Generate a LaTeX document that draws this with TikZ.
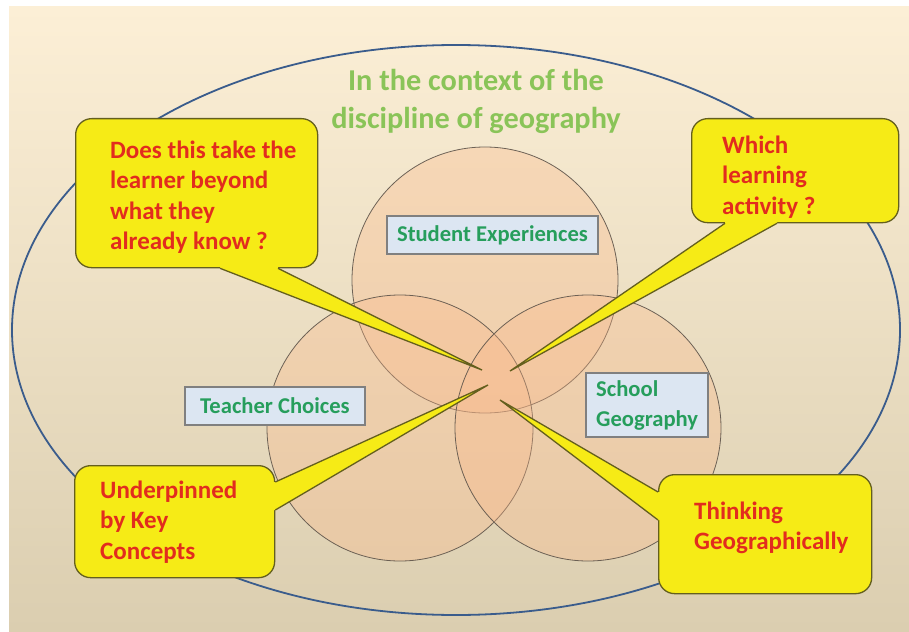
\documentclass[tikz,border=0pt]{standalone}
\usepackage{fontspec}
\setmainfont{Carlito}
\usetikzlibrary{calc,shapes.geometric}

\definecolor{bgtop}{RGB}{252,239,214}
\definecolor{bgmid}{RGB}{243,229,200}
\definecolor{bgbot}{RGB}{219,206,176}
\definecolor{ringblue}{RGB}{58,92,140}
\definecolor{vennpeach}{RGB}{252,184,137}
\definecolor{vennedge}{RGB}{95,85,75}
\definecolor{titlegreen}{RGB}{138,196,88}
\definecolor{labelgreen}{RGB}{38,158,92}
\definecolor{labelfill}{RGB}{220,230,242}
\definecolor{labeledge}{RGB}{128,128,128}
\definecolor{callyellow}{RGB}{246,235,22}
\definecolor{calledgec}{RGB}{100,95,30}
\definecolor{callred}{RGB}{226,44,30}

\tikzset{
  ctxring/.style={ellipse, draw=ringblue, line width=1.8pt, inner sep=0pt},
  venn/.style={circle, minimum size=266pt, inner sep=0pt, outer sep=0pt,
    fill=vennpeach, fill opacity=0.33, draw=vennedge, draw opacity=0.9, line width=0.8pt},
  labelbox/.style={rectangle, fill=labelfill, draw=labeledge, line width=1.2pt, inner sep=0pt},
  labeltext/.style={text=labelgreen, font=\fontsize{22.6}{30}\selectfont\bfseries, inner sep=0pt, align=left},
  titletext/.style={text=titlegreen, font=\fontsize{30.3}{38}\selectfont\bfseries, align=center, inner sep=0pt},
  callbox/.style={rectangle, rounded corners=16pt, fill=callyellow, draw=calledgec, line width=1.3pt, inner sep=0pt},
  callfill/.style={fill=callyellow},
  calledge/.style={draw=calledgec, line width=1.3pt, line join=miter},
  calltext/.style={text=callred, font=\fontsize{25}{30.5}\selectfont\bfseries, align=left, inner sep=0pt},
}

\begin{document}
\begin{tikzpicture}[x=1pt, y=-1pt]
\useasboundingbox (0,0) rectangle (909,631);

% page background
\shade[top color=bgtop, middle color=bgmid, bottom color=bgbot] (9,7) rectangle (909,631);

% outer context ring
\node[ctxring, minimum width=888pt, minimum height=570pt] (ctx) at (456,330) {};

% the three overlapping circles
\node[venn] (se) at (485,280) {};
\node[venn] (tc) at (400,428) {};
\node[venn] (sg) at (588,428) {};

% circle labels
\node[labelbox, minimum width=211pt, minimum height=38pt] (seb) at (492.5,235) {};
\node[labeltext] (set) at (seb.center) {Student Experiences};
\node[labelbox, minimum width=180pt, minimum height=38pt] (tcb) at (275,406) {};
\node[labeltext] (tct) at (tcb.center) {Teacher Choices};
\node[labelbox, minimum width=122pt, minimum height=64pt] (sgb) at (647,405) {};
\node[labeltext, anchor=west] (sgt) at (596,405) {School\\Geography};

% title
\node[titletext] (title) at (476,101) {In the context of the\\discipline of geography};

% callout 1 (upper left)
\node[callbox, minimum width=242pt, minimum height=149pt, anchor=north west] (q1) at (75,118) {};
\coordinate (p1) at (482,370);
\coordinate (a1) at ($(q1.south west)+(145,0)$);
\coordinate (b1) at ($(q1.south west)+(203,0)$);
\fill[callfill] ($(a1)+(0,-3)$) -- (a1) -- (p1) -- (b1) -- ($(b1)+(0,-3)$) -- cycle;
\draw[calledge] (a1) -- (p1) -- (b1);
\node[calltext, anchor=west] (t1) at (110,197) {Does this take the\\learner beyond\\what they\\already know ?};

% callout 2 (upper right)
\node[callbox, minimum width=207pt, minimum height=104pt, anchor=north west] (q2) at (691,118) {};
\coordinate (p2) at (510,371);
\coordinate (a2) at ($(q2.south west)+(34,0)$);
\coordinate (b2) at ($(q2.south west)+(86,0)$);
\fill[callfill] ($(a2)+(0,-3)$) -- (a2) -- (p2) -- (b2) -- ($(b2)+(0,-3)$) -- cycle;
\draw[calledge] (a2) -- (p2) -- (b2);
\node[calltext, anchor=west] (t2) at (722,177) {Which\\learning\\activity ?};

% callout 3 (lower left)
\node[callbox, minimum width=200pt, minimum height=112pt, anchor=north west] (q3) at (74,465) {};
\coordinate (p3) at (488,385);
\coordinate (a3) at ($(q3.north east)+(0,17)$);
\coordinate (b3) at ($(q3.north east)+(0,45)$);
\fill[callfill] ($(a3)+(-3,0)$) -- (a3) -- (p3) -- (b3) -- ($(b3)+(-3,0)$) -- cycle;
\draw[calledge] (a3) -- (p3) -- (b3);
\node[calltext, anchor=west] (t3) at (100,522) {Underpinned\\by Key\\Concepts};

% callout 4 (lower right)
\node[callbox, minimum width=213pt, minimum height=119pt, anchor=north west] (q4) at (658,474) {};
\coordinate (p4) at (500,400);
\coordinate (a4) at ($(q4.north west)+(0,18)$);
\coordinate (b4) at ($(q4.north west)+(0,46)$);
\fill[callfill] ($(a4)+(3,0)$) -- (a4) -- (p4) -- (b4) -- ($(b4)+(3,0)$) -- cycle;
\draw[calledge] (a4) -- (p4) -- (b4);
\node[calltext, anchor=west] (t4) at (694,528) {Thinking\\Geographically};
\end{tikzpicture}
\end{document}
